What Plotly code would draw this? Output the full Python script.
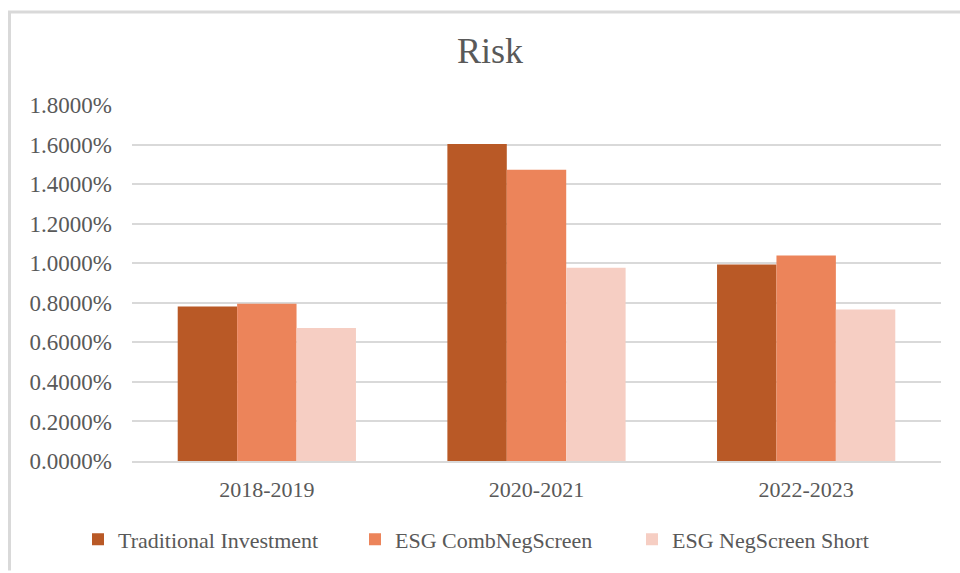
import plotly.graph_objects as go

# Risk (standard deviation of returns) per period and strategy
periods = ["2018-2019", "2020-2021", "2022-2023"]
traditional = [0.00781, 0.01603, 0.00993]
esg_comb_neg_screen = [0.00795, 0.01472, 0.01039]
esg_neg_screen_short = [0.00672, 0.00977, 0.00766]

series_names = ["Traditional Investment", "ESG CombNegScreen", "ESG NegScreen Short"]
series_values = [traditional, esg_comb_neg_screen, esg_neg_screen_short]
series_colors = ["#B95926", "#EC845A", "#F6CEC3"]

FONT = "Liberation Serif"
TEXT_GREY = "#595959"
GRID_GREY = "#D9D9D9"

fig = go.Figure()
for name, vals, color in zip(series_names, series_values, series_colors):
    fig.add_trace(go.Bar(
        x=periods, y=vals, name=name,
        marker=dict(color=color, line=dict(width=0)),
    ))

# plot area geometry (pixels) used to place the frame lines in paper coords
L, R, T, B = 132, 19, 105, 110
W, H = 960, 573
pw, ph = W - L - R, H - T - B

def px_x(px):
    return (px - L) / pw

def px_y(py):
    return (H - B - py) / ph

fig.update_layout(
    width=W, height=H,
    margin=dict(l=L, r=R, t=T, b=B),
    paper_bgcolor="white", plot_bgcolor="white",
    barmode="group", bargap=0.339, bargroupgap=0,
    title=dict(text="Risk", x=490 / W, xanchor="center",
               y=1 - 50 / H, yanchor="middle",
               font=dict(family=FONT, size=36, color=TEXT_GREY)),
    font=dict(family=FONT, color=TEXT_GREY),
    legend=dict(orientation="h", x=px_x(78), xanchor="left",
                y=px_y(542), yanchor="middle",
                font=dict(family=FONT, size=22, color=TEXT_GREY),
                entrywidth=232, entrywidthmode="pixels",
                itemwidth=30, bgcolor="rgba(0,0,0,0)"),
    xaxis=dict(showgrid=False, showline=True, linecolor=GRID_GREY, linewidth=2,
               ticks="", ticklabelstandoff=8,
               tickfont=dict(family=FONT, size=22, color=TEXT_GREY)),
    yaxis=dict(range=[0, 0.018], dtick=0.002, tickformat=".4%",
               showgrid=True, gridcolor=GRID_GREY, gridwidth=2,
               zeroline=False, showline=False, ticks="",
               ticklabelstandoff=19,
               tickfont=dict(family=FONT, size=23, color=TEXT_GREY)),
    shapes=[
        dict(type="line", xref="paper", yref="paper",
             x0=px_x(9.5), x1=px_x(9.5), y0=px_y(11.5), y1=px_y(H),
             line=dict(color=GRID_GREY, width=3)),
        dict(type="line", xref="paper", yref="paper",
             x0=px_x(8), x1=px_x(W), y0=px_y(11.5), y1=px_y(11.5),
             line=dict(color=GRID_GREY, width=3)),
    ],
)

fig.write_html("out.html")
